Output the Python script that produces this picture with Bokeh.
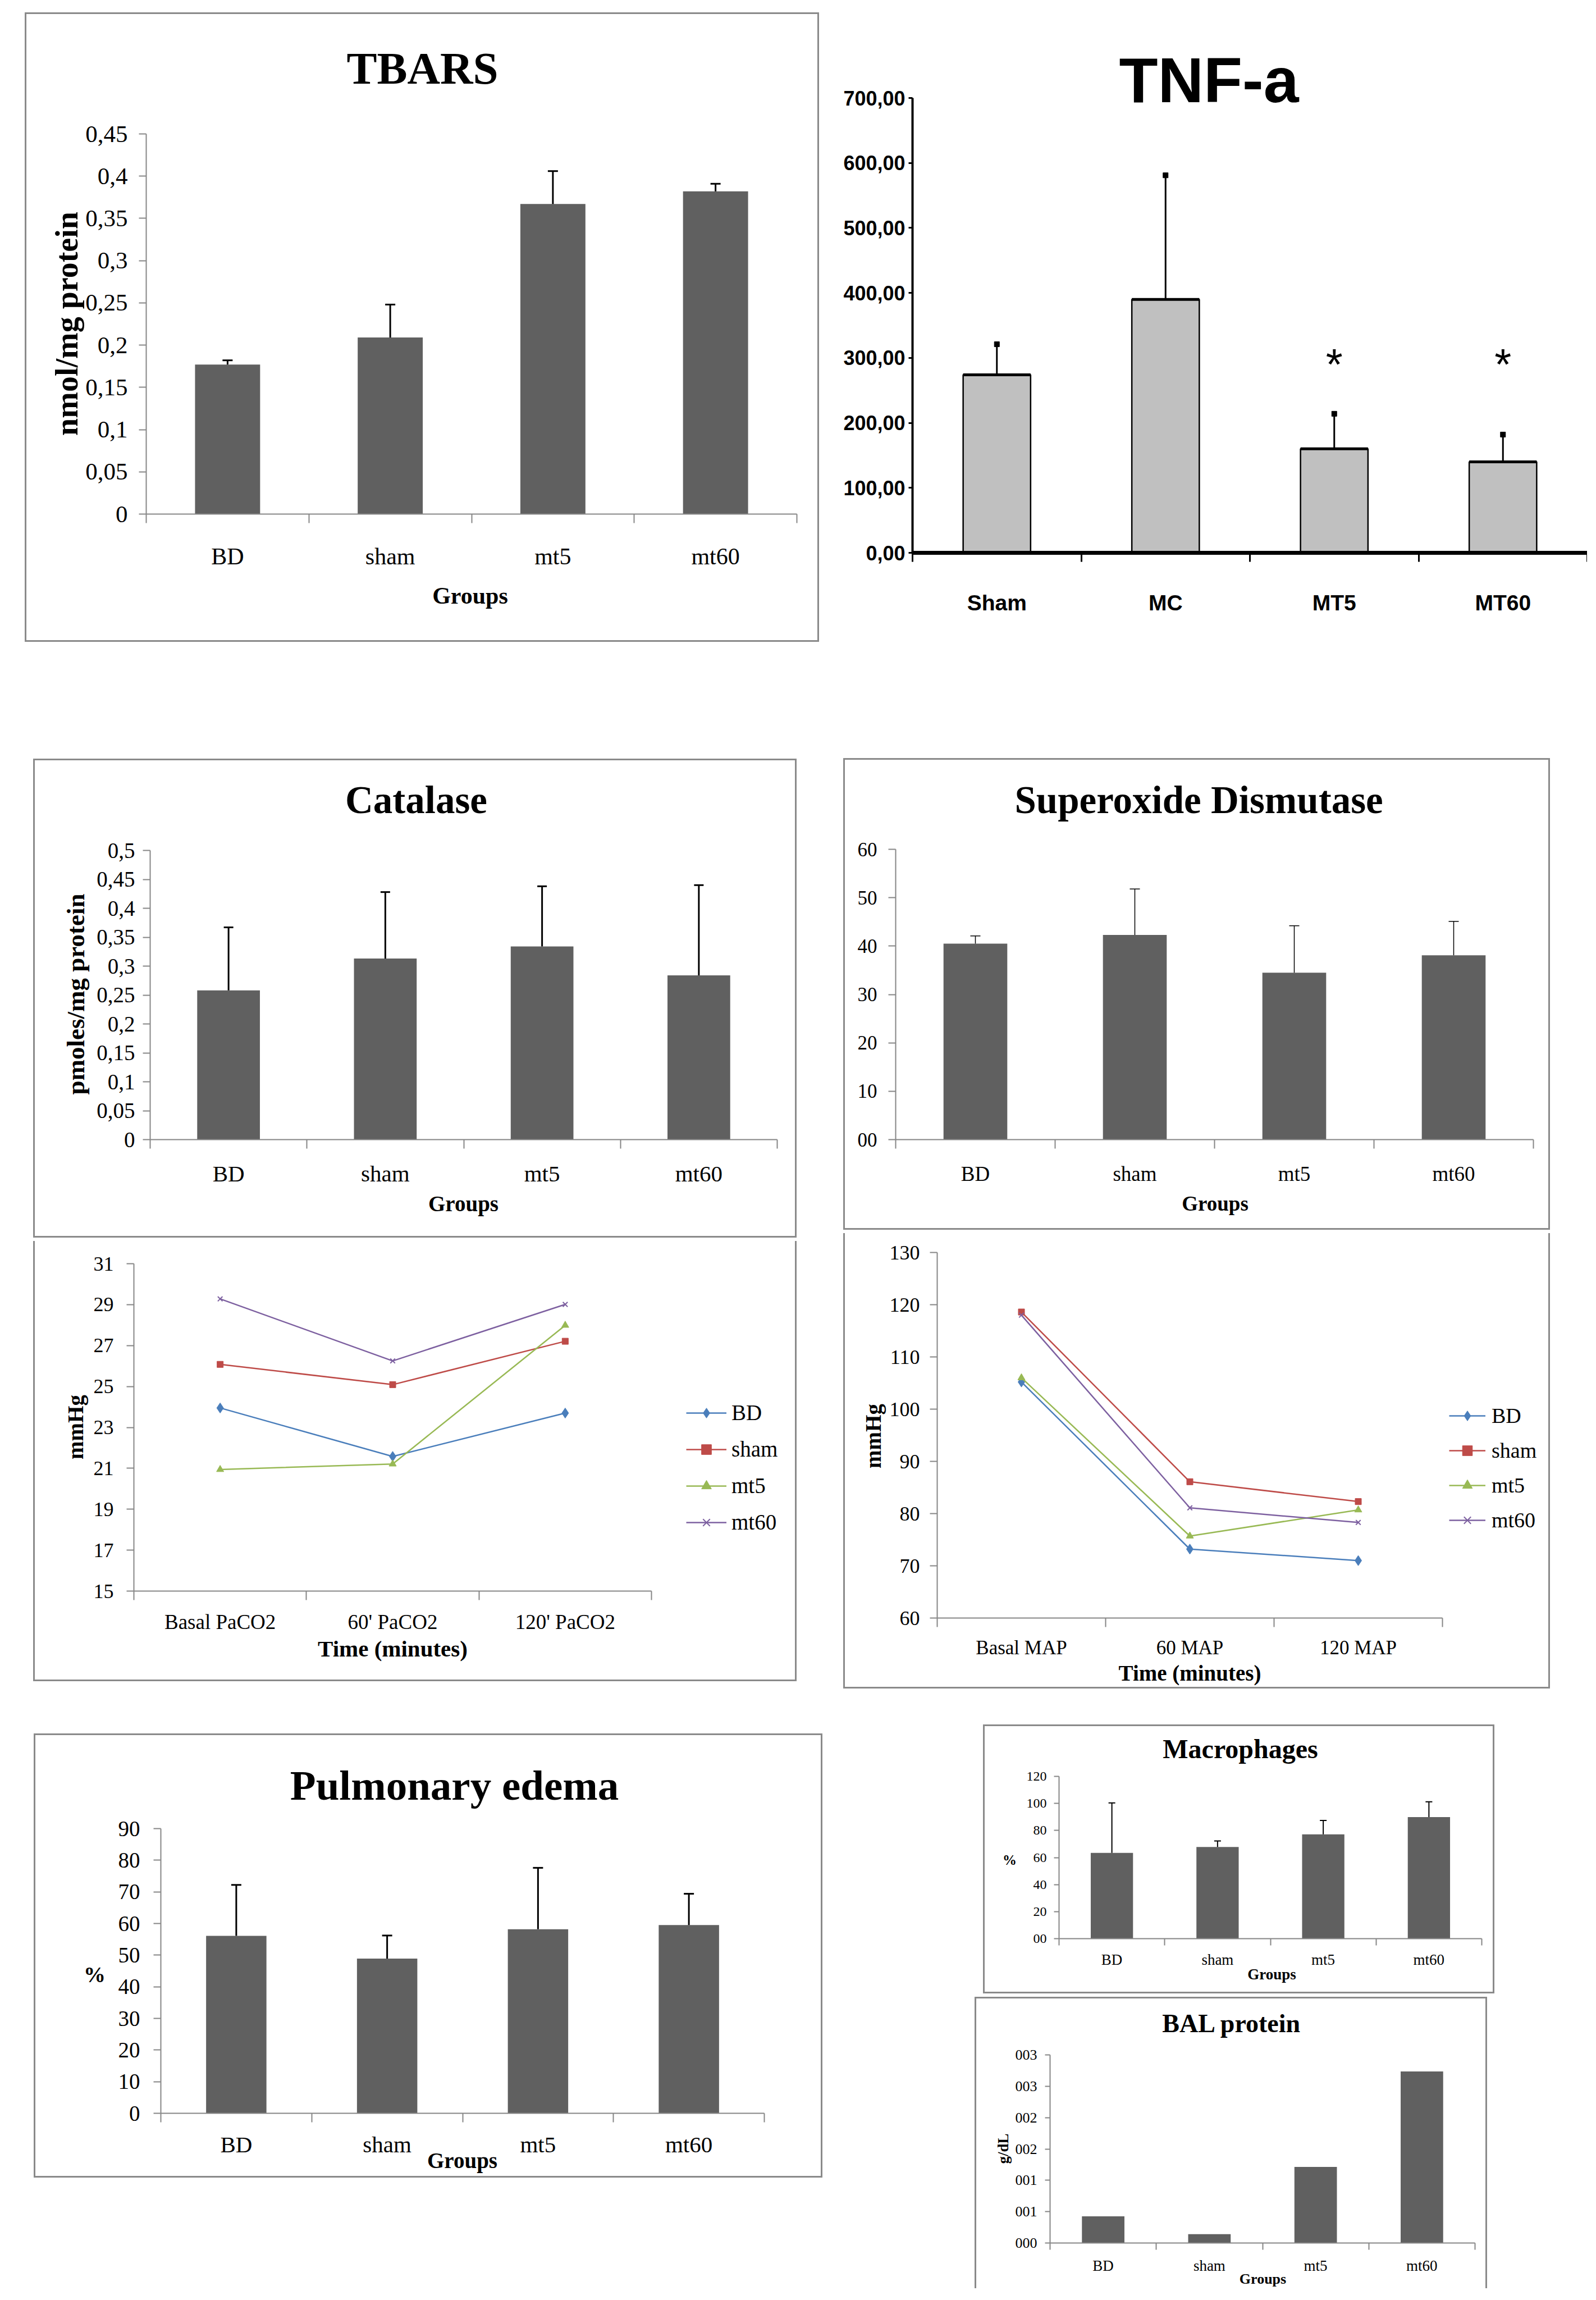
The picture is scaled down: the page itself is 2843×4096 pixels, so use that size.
import math
from bokeh.plotting import figure
from bokeh.models import Range1d, FixedTicker, Label, Legend, LegendItem, Spacer
from bokeh.layouts import row, column
from bokeh.embed import file_html
from bokeh.resources import INLINE
from bokeh.core.properties import value

S = 0.965


def px(v):
    return int(round(v * S))


# ---------------- data ----------------
groups = ["BD", "sham", "mt5", "mt60"]
tnf_groups = ["Sham", "MC", "MT5", "MT60"]

tbars_mean = [0.177, 0.209, 0.367, 0.382]
tbars_sd = [0.005, 0.039, 0.039, 0.009]
tbars_ticks = [0, 0.05, 0.1, 0.15, 0.2, 0.25, 0.3, 0.35, 0.4, 0.45]
tbars_tick_labels = ["0", "0,05", "0,1", "0,15", "0,2", "0,25", "0,3", "0,35", "0,4", "0,45"]

tnf_mean = [274, 390, 160, 140]
tnf_sd = [47, 191, 54, 42]
tnf_sig = ["", "", "*", "*"]
tnf_sig_level = 290
tnf_ticks = [0, 100, 200, 300, 400, 500, 600, 700]
tnf_tick_labels = ["0,00", "100,00", "200,00", "300,00", "400,00", "500,00", "600,00", "700,00"]

cat_mean = [0.258, 0.313, 0.334, 0.284]
cat_sd = [0.109, 0.115, 0.104, 0.156]
cat_ticks = [0, 0.05, 0.1, 0.15, 0.2, 0.25, 0.3, 0.35, 0.4, 0.45, 0.5]
cat_tick_labels = ["0", "0,05", "0,1", "0,15", "0,2", "0,25", "0,3", "0,35", "0,4", "0,45", "0,5"]

sod_mean = [40.5, 42.3, 34.5, 38.1]
sod_sd = [1.6, 9.5, 9.7, 7.0]
sod_ticks = [0, 10, 20, 30, 40, 50, 60]
sod_tick_labels = ["00", "10", "20", "30", "40", "50", "60"]

paco2_times = ["Basal PaCO2", "60' PaCO2", "120' PaCO2"]
paco2_bd = [23.95, 21.58, 23.70]
paco2_sham = [26.08, 25.09, 27.21]
paco2_mt5 = [20.94, 21.21, 27.99]
paco2_mt60 = [29.28, 26.25, 29.01]
paco2_ticks = [15, 17, 19, 21, 23, 25, 27, 29, 31]
paco2_tick_labels = ["15", "17", "19", "21", "23", "25", "27", "29", "31"]

map_times = ["Basal MAP", "60 MAP", "120 MAP"]
map_bd = [105.2, 73.2, 71.0]
map_sham = [118.6, 86.1, 82.3]
map_mt5 = [106.0, 75.7, 80.7]
map_mt60 = [118.0, 81.1, 78.3]
map_ticks = [60, 70, 80, 90, 100, 110, 120, 130]
map_tick_labels = ["60", "70", "80", "90", "100", "110", "120", "130"]

edema_mean = [56.1, 48.9, 58.2, 59.5]
edema_sd = [16.1, 7.3, 19.4, 9.9]
edema_ticks = [0, 10, 20, 30, 40, 50, 60, 70, 80, 90]
edema_tick_labels = ["0", "10", "20", "30", "40", "50", "60", "70", "80", "90"]

macro_mean = [63.4, 67.8, 77.1, 89.9]
macro_sd = [37.0, 4.5, 10.3, 11.3]
macro_ticks = [0, 20, 40, 60, 80, 100, 120]
macro_tick_labels = ["00", "20", "40", "60", "80", "100", "120"]

bal_mean = [0.00426, 0.0014, 0.01214, 0.02736]
bal_ticks = [0, 0.005, 0.01, 0.015, 0.02, 0.025, 0.03]
bal_tick_labels = ["000", "001", "001", "002", "002", "003", "003"]

# ---------------- styles ----------------
SERIF = "Liberation Serif"
SANS = "Liberation Sans"
AXIS_GRAY = "#868686"
BOX_GRAY = "#8a8a8a"
BAR_GRAY = "#606060"
TNF_GRAY = "#c0c0c0"
BW = 3
SERIES = [("BD", "#4a7ebb", "diamond", 18), ("sham", "#be4b48", "square", 11),
          ("mt5", "#98b954", "triangle", 13), ("mt60", "#7d60a0", "x", 12)]


def make_panel(box, frame, yr, ncat, sides="trbl"):
    """The plot frame fills the whole inner box; axes are pinned with fixed_location."""
    X0, Y0, X1, Y1 = box
    fx0, fy0, fx1, fy1 = frame
    bw = {s: (BW if s in sides else 0) for s in "trbl"}
    ol, ot, orr, ob = px(X0), px(Y0), px(X1), px(Y1)
    il, it, ir, ib = ol + bw["l"], ot + bw["t"], orr - bw["r"], ob - bw["b"]
    fx0p, fx1p, fy0p, fy1p = px(fx0), px(fx1), px(fy0), px(fy1)
    sx = ncat / (fx1p - fx0p)
    sy = (yr[1] - yr[0]) / (fy1p - fy0p)
    x_start = -(fx0p - il) * sx
    x_end = ncat + (ir - fx1p) * sx
    y_start = yr[0] - (ib - fy1p) * sy
    y_end = yr[1] + (fy0p - it) * sy
    p = figure(width=ir - il, height=ib - it,
               x_range=Range1d(x_start, x_end), y_range=Range1d(y_start, y_end),
               min_border=0, min_border_left=0, min_border_right=0,
               min_border_top=0, min_border_bottom=0,
               output_backend="svg", toolbar_location=None, tools="")
    names = {"t": "top", "r": "right", "b": "bottom", "l": "left"}
    css = {}
    for s in "trbl":
        if bw[s]:
            css["border-" + names[s]] = f"{BW}px solid {BOX_GRAY}"
    if css:
        p.styles = css
    p.xgrid.visible = False
    p.ygrid.visible = False
    p.outline_line_color = None
    p.background_fill_color = "white"
    p.border_fill_color = "white"
    geo = dict(il=il, it=it, ir=ir, ib=ib, fx0p=fx0p, fy1p=fy1p, fx0=fx0, fy1=fy1,
               sx=sx, sy=sy, yr=yr, ncat=ncat)
    return dict(p=p, outer=(ol, ot, orr, ob), geo=geo)


def to_data(geo, X, Y):
    x = (px(X) - geo["fx0p"]) * geo["sx"]
    y = geo["yr"][0] + (geo["fy1p"] - px(Y)) * geo["sy"]
    return x, y


def add_label(panel, text, X, Y, size, bold=False, font=SERIF, angle=0.0):
    x, y = to_data(panel["geo"], X, Y)
    panel["p"].add_layout(Label(x=x, y=y, text=text, text_font=font,
                                text_font_size=f"{px(size)}px",
                                text_font_style="bold" if bold else "normal",
                                text_align="center", text_baseline="middle",
                                angle=angle, text_color="black"))


def style_axes(panel, cats, yticks, ylabels, tick_font, tick_right, cat_font, cat_y,
               font=SERIF, bold=False, color=AXIS_GRAY, x_lw=2, y_lw=2,
               ytick_out=13, xtick_out=17, tick_lw=2, cat_factor=0.79):
    p = panel["p"]
    g = panel["geo"]
    n = len(cats)
    centers = [i + 0.5 for i in range(n)]
    xa = p.xaxis[0]
    ya = p.yaxis[0]
    xa.fixed_location = g["yr"][0]
    xa.bounds = (0, n)
    ya.fixed_location = 0
    ya.bounds = (g["yr"][0], g["yr"][1])
    xa.ticker = FixedTicker(ticks=centers, minor_ticks=list(range(n + 1)))
    xa.major_label_overrides = dict(zip(centers, cats))
    xa.major_tick_out = 0
    xa.major_tick_in = 0
    xa.major_tick_line_color = None
    xa.minor_tick_out = px(xtick_out)
    xa.minor_tick_in = 0
    xa.axis_line_color = color
    xa.axis_line_width = x_lw
    xa.minor_tick_line_color = color
    xa.minor_tick_line_width = tick_lw
    xa.major_label_text_font = font
    xa.major_label_text_font_size = f"{px(cat_font)}px"
    xa.major_label_text_font_style = "bold" if bold else "normal"
    xa.major_label_text_color = "black"
    xa.major_label_standoff = max(0, px(cat_y - g["fy1"]) - int(round(cat_factor * px(cat_font))))
    ya.ticker = FixedTicker(ticks=yticks)
    ya.major_label_overrides = dict(zip(yticks, ylabels))
    ya.major_tick_out = px(ytick_out)
    ya.major_tick_in = 0
    ya.minor_tick_out = 0
    ya.minor_tick_in = 0
    ya.axis_line_color = color
    ya.axis_line_width = y_lw
    ya.major_tick_line_color = color
    ya.major_tick_line_width = tick_lw
    ya.major_label_text_font = font
    ya.major_label_text_font_size = f"{px(tick_font)}px"
    ya.major_label_text_font_style = "bold" if bold else "normal"
    ya.major_label_text_color = "black"
    ya.major_label_standoff = max(0, px(g["fx0"] - tick_right) - px(ytick_out))


def draw_bars(panel, means, sds=None, err_lw=3, cap=19):
    p = panel["p"]
    xs = [i + 0.5 for i in range(len(means))]
    p.vbar(x=xs, top=means, bottom=0, width=0.4, fill_color=BAR_GRAY, line_color=None)
    if sds is not None:
        tops = [m + s for m, s in zip(means, sds)]
        p.segment(x0=xs, y0=means, x1=xs, y1=tops, line_color="black", line_width=err_lw)
        p.scatter(x=xs, y=tops, marker="dash", size=px(cap), line_color="black", line_width=err_lw)


def draw_lines(panel, series_values, legend_x0, legend_x1, text_x, centers_y, font_size):
    p = panel["p"]
    g = panel["geo"]
    items = []
    for (name, color, marker, msize), ys in zip(SERIES, series_values):
        xs = [i + 0.5 for i in range(len(ys))]
        r1 = p.line(xs, ys, line_color=color, line_width=2.5)
        r2 = p.scatter(xs, ys, marker=marker, size=msize, fill_color=color,
                       line_color=color, line_width=2 if marker == "x" else 1)
        items.append(LegendItem(label=name, renderers=[r1, r2]))
    ih = 46
    pitch = (centers_y[-1] - centers_y[0]) / (len(centers_y) - 1)
    bottom = centers_y[-1] + ih / 2
    leg = Legend(items=items,
                 location=(px(legend_x0) - g["il"] + 3, g["ib"] - px(bottom) - 9),
                 orientation="vertical", glyph_width=px(legend_x1) - px(legend_x0),
                 glyph_height=px(ih), label_height=px(ih), spacing=px(pitch) - px(ih),
                 padding=0, margin=0, border_line_color=None, background_fill_alpha=0,
                 label_standoff=px(text_x - legend_x1), label_text_font=SERIF,
                 label_text_font_size=f"{px(font_size)}px", label_text_color="black")
    p.add_layout(leg)


# ---------------- TBARS ----------------
tb = make_panel((54, 31, 1526, 1199), (278, 255, 1479, 956), (0, 0.45), 4)
style_axes(tb, groups, tbars_ticks, tbars_tick_labels, 45, 244, 44, 1027)
draw_bars(tb, tbars_mean, tbars_sd, err_lw=3, cap=19)
add_label(tb, "TBARS", 788, 134, 84, bold=True)
add_label(tb, "Groups", 876, 1107, 44, bold=True)
add_label(tb, "nmol/mg protein", 131, 605, 58, bold=True, angle=math.pi / 2)

# ---------------- TNF-a ----------------
tn = make_panel((1540, 40, 2938, 1200), (1692, 189, 2938, 1028), (0, 700), 4, sides="")
style_axes(tn, tnf_groups, tnf_ticks, tnf_tick_labels, 37, 1679, 40, 1115,
           font=SANS, bold=True, color="black", x_lw=7, y_lw=4, ytick_out=7,
           xtick_out=17, tick_lw=3, cat_factor=0.835)
tnf_x = [i + 0.5 for i in range(len(tnf_mean))]
tnf_top = [m + s for m, s in zip(tnf_mean, tnf_sd)]
tn["p"].vbar(x=tnf_x, top=tnf_mean, bottom=0, width=0.4, fill_color=TNF_GRAY,
             line_color="black", line_width=2.5)
tn["p"].segment(x0=[x - 0.2 for x in tnf_x], y0=tnf_mean, x1=[x + 0.2 for x in tnf_x],
                y1=tnf_mean, line_color="black", line_width=5)
tn["p"].segment(x0=tnf_x, y0=tnf_mean, x1=tnf_x, y1=tnf_top, line_color="black", line_width=3)
tn["p"].scatter(x=tnf_x, y=tnf_top, marker="square", size=px(9), fill_color="black",
                line_color="black")
sig_x = [x for x, s in zip(tnf_x, tnf_sig) if s]
sig_t = [s for s in tnf_sig if s]
tn["p"].text(x=sig_x, y=[tnf_sig_level] * len(sig_x), text=sig_t, text_font=value(SANS),
             text_font_size=value(f"{px(80)}px"), text_align="center",
             text_baseline="middle", text_color="black")
add_label(tn, "TNF-a", 2239, 155, 117, bold=True, font=SANS)

# ---------------- Catalase ----------------
ca = make_panel((69, 1408, 1485, 2298), (285, 1577, 1442, 2111), (0, 0.5), 4)
style_axes(ca, groups, cat_ticks, cat_tick_labels, 40, 257, 42, 2166)
draw_bars(ca, cat_mean, cat_sd, err_lw=3, cap=18)
add_label(ca, "Catalase", 776, 1484, 72, bold=True)
add_label(ca, "Groups", 863, 2229, 40, bold=True)
add_label(ca, "pmoles/mg protein", 147, 1843, 47, bold=True, angle=math.pi / 2)

# ---------------- Superoxide Dismutase ----------------
so = make_panel((1565, 1407, 2876, 2284), (1661, 1575, 2838, 2111), (0, 60), 4)
style_axes(so, groups, sod_ticks, sod_tick_labels, 36, 1627, 38, 2166)
draw_bars(so, sod_mean, sod_sd, err_lw=1.5, cap=19)
add_label(so, "Superoxide Dismutase", 2221, 1484, 72, bold=True)
add_label(so, "Groups", 2251, 2229, 38, bold=True)

# ---------------- PaCO2 ----------------
pa = make_panel((69, 2298, 1485, 3114), (255, 2340, 1210, 2944), (15, 31), 3, sides="rbl")
style_axes(pa, paco2_times, paco2_ticks, paco2_tick_labels, 37, 218, 38, 2993)
draw_lines(pa, [paco2_bd, paco2_sham, paco2_mt5, paco2_mt60], 1272, 1346, 1355,
           [2609, 2675, 2742, 2808], 40)
add_label(pa, "Time (minutes)", 733, 3050, 42, bold=True)
add_label(pa, "mmHg", 147, 2641, 40, bold=True, angle=math.pi / 2)

# ---------------- MAP ----------------
mp = make_panel((1565, 2284, 2876, 3127), (1738, 2319, 2670, 2994), (60, 130), 3, sides="rbl")
style_axes(mp, map_times, map_ticks, map_tick_labels, 37, 1706, 36, 3041)
draw_lines(mp, [map_bd, map_sham, map_mt5, map_mt60], 2680, 2747, 2758,
           [2610, 2675, 2740, 2804], 39)
add_label(mp, "Time (minutes)", 2204, 3095, 40, bold=True)
add_label(mp, "mmHg", 1620, 2658, 40, bold=True, angle=math.pi / 2)

# ---------------- Pulmonary edema ----------------
ed = make_panel((70, 3207, 1533, 4033), (305, 3382, 1419, 3908), (0, 90), 4)
style_axes(ed, groups, edema_ticks, edema_tick_labels, 40, 267, 42, 3958)
draw_bars(ed, edema_mean, edema_sd, err_lw=3, cap=19)
add_label(ed, "Pulmonary edema", 847, 3303, 78, bold=True)
add_label(ed, "Groups", 861, 3995, 40, bold=True)
add_label(ed, "%", 182, 3652, 40, bold=True)

# ---------------- Macrophages ----------------
ma = make_panel((1823, 3191, 2773, 3693), (1963, 3286, 2743, 3586), (0, 120), 4)
style_axes(ma, groups, macro_ticks, macro_tick_labels, 25, 1940, 28, 3618, xtick_out=12, ytick_out=9)
draw_bars(ma, macro_mean, macro_sd, err_lw=2, cap=12)
add_label(ma, "Macrophages", 2297, 3235, 50, bold=True)
add_label(ma, "Groups", 2355, 3651, 28, bold=True)
add_label(ma, "%", 1872, 3440, 26, bold=True)

# ---------------- BAL protein ----------------
ba = make_panel((1807, 3693, 2760, 4234), (1946, 3800, 2731, 4147), (0, 0.03), 4, sides="trl")
style_axes(ba, groups, bal_ticks, bal_tick_labels, 27, 1922, 28, 4182, xtick_out=12, ytick_out=9)
draw_bars(ba, bal_mean)
add_label(ba, "BAL protein", 2282, 3742, 48, bold=True)
add_label(ba, "Groups", 2339, 4213, 27, bold=True)
add_label(ba, "g/dL", 1859, 3973, 28, bold=True, angle=math.pi / 2)


# ---------------- page layout ----------------
def build_column(panels, x_origin, width):
    kids = []
    cur = 8
    first = True
    for pan in panels:
        ol, ot, orr, ob = pan["outer"]
        gap = ot - cur
        if first or gap > 0:
            kids.append(Spacer(width=width, height=max(gap, 0)))
        first = False
        kids.append(row(Spacer(width=max(ol - x_origin, 0), height=ob - ot), pan["p"]))
        cur = ob
    return column(*kids)


LW = px(1538) - 8
left_col = build_column([tb, ca, pa, ed], 8, LW)
right_col = build_column([tn, so, mp, ma, ba], 8 + LW, px(2938) - (8 + LW))
root = row(left_col, right_col)

open("out.html", "w").write(file_html(root, INLINE))
